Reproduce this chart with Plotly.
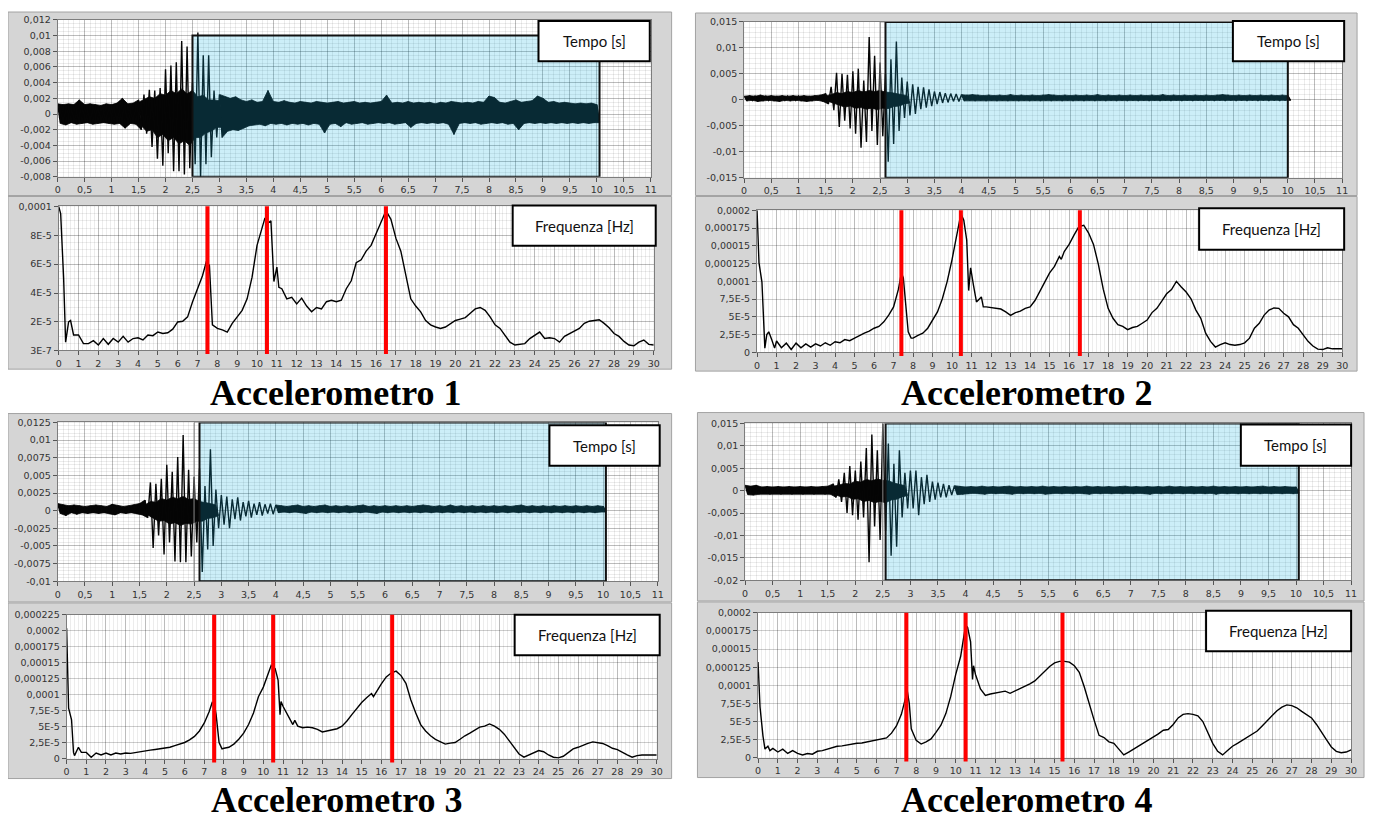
import plotly.graph_objects as go

# the page adds an 8 px body margin, so the figure is drawn 8 px in and is 8 px smaller
OFFSET = 8
W, H = 1374 - OFFSET, 823 - OFFSET

# ---------------------------------------------------------------- data
# time signals: envelope readings (max / min) every 0.1 s
T = [i / 10 for i in range(101)]

ACC1_HI = [0.0013, 0.0012, 0.0013, 0.0012, 0.0018, 0.0012, 0.0013, 0.0012, 0.0011, 0.0013,
           0.0012, 0.0014, 0.0020, 0.0013, 0.0014, 0.0018, 0.0025, 0.0031, 0.0030, 0.0033,
           0.0057, 0.0062, 0.0066, 0.0093, 0.0086, 0.0040, 0.0104, 0.0075, 0.0075, 0.0030,
           0.0025, 0.0022, 0.0020, 0.0022, 0.0018, 0.0016, 0.0018, 0.0015, 0.0016, 0.0030,
           0.0016, 0.0015, 0.0017, 0.0015, 0.0014, 0.0016, 0.0015, 0.0014, 0.0016, 0.0015,
           0.0014, 0.0015, 0.0016, 0.0014, 0.0015, 0.0016, 0.0014, 0.0015, 0.0014, 0.0015,
           0.0016, 0.0024, 0.0014, 0.0015, 0.0014, 0.0016, 0.0014, 0.0015, 0.0014, 0.0015,
           0.0013, 0.0015, 0.0014, 0.0016, 0.0015, 0.0014, 0.0015, 0.0014, 0.0016, 0.0015,
           0.0023, 0.0021, 0.0015, 0.0014, 0.0016, 0.0018, 0.0015, 0.0016, 0.0017, 0.0023,
           0.0020, 0.0015, 0.0016, 0.0014, 0.0015, 0.0014, 0.0013, 0.0014, 0.0013, 0.0014,
           0.0012]
ACC1_LO = [-0.0012, -0.0014, -0.0011, -0.0013, -0.0012, -0.0011, -0.0013, -0.0012, -0.0011, -0.0012,
           -0.0013, -0.0012, -0.0018, -0.0012, -0.0013, -0.0020, -0.0025, -0.0042, -0.0057, -0.0066,
           -0.0050, -0.0073, -0.0073, -0.0077, -0.0069, -0.0064, -0.0080, -0.0064, -0.0055, -0.0030,
           -0.0030, -0.0022, -0.0020, -0.0021, -0.0018, -0.0015, -0.0014, -0.0013, -0.0015, -0.0012,
           -0.0013, -0.0012, -0.0014, -0.0012, -0.0013, -0.0012, -0.0014, -0.0012, -0.0013, -0.0024,
           -0.0013, -0.0012, -0.0016, -0.0011, -0.0013, -0.0012, -0.0011, -0.0013, -0.0012, -0.0011,
           -0.0012, -0.0011, -0.0013, -0.0012, -0.0011, -0.0017, -0.0012, -0.0011, -0.0012, -0.0011,
           -0.0012, -0.0011, -0.0013, -0.0026, -0.0012, -0.0011, -0.0012, -0.0011, -0.0013, -0.0012,
           -0.0011, -0.0012, -0.0011, -0.0013, -0.0012, -0.0020, -0.0012, -0.0011, -0.0012, -0.0011,
           -0.0012, -0.0011, -0.0012, -0.0011, -0.0012, -0.0011, -0.0012, -0.0011, -0.0012, -0.0011,
           -0.0011]

ACC2_HI = [0.0007, 0.0008, 0.0007, 0.0009, 0.0007, 0.0008, 0.0007, 0.0008, 0.0007, 0.0008,
           0.0007, 0.0008, 0.0007, 0.0008, 0.0009, 0.0012, 0.0025, 0.0052, 0.0050, 0.0048,
           0.0055, 0.0060, 0.0037, 0.0121, 0.0085, 0.0072, 0.0050, 0.0078, 0.0112, 0.0043,
           0.0035, 0.0030, 0.0025, 0.0024, 0.0020, 0.0016, 0.0015, 0.0013, 0.0012, 0.0011,
           0.0010, 0.0009, 0.0010, 0.0009, 0.0008, 0.0009, 0.0008, 0.0009, 0.0008, 0.0010,
           0.0008, 0.0009, 0.0008, 0.0009, 0.0008, 0.0009, 0.0010, 0.0009, 0.0008, 0.0009,
           0.0008, 0.0009, 0.0008, 0.0009, 0.0008, 0.0010, 0.0008, 0.0009, 0.0008, 0.0009,
           0.0008, 0.0009, 0.0008, 0.0009, 0.0008, 0.0009, 0.0008, 0.0010, 0.0008, 0.0009,
           0.0008, 0.0009, 0.0008, 0.0009, 0.0008, 0.0009, 0.0008, 0.0009, 0.0010, 0.0009,
           0.0008, 0.0009, 0.0008, 0.0009, 0.0008, 0.0009, 0.0008, 0.0009, 0.0008, 0.0009,
           0.0008]
ACC2_LO = [-0.0002, -0.0001, -0.0003, -0.0002, -0.0001, -0.0002, -0.0003, -0.0001, -0.0002, -0.0001,
           -0.0002, -0.0003, -0.0002, -0.0001, -0.0003, -0.0008, -0.0020, -0.0052, -0.0040, -0.0055,
           -0.0065, -0.0092, -0.0081, -0.0060, -0.0087, -0.0070, -0.0119, -0.0085, -0.0060, -0.0035,
           -0.0030, -0.0027, -0.0018, -0.0015, -0.0012, -0.0008, -0.0006, -0.0005, -0.0003, -0.0003,
           -0.0002, -0.0001, -0.0002, -0.0001, -0.0002, -0.0001, -0.0002, -0.0001, -0.0002, -0.0001,
           -0.0002, -0.0001, -0.0002, -0.0001, -0.0002, -0.0001, -0.0002, -0.0001, -0.0002, -0.0001,
           -0.0002, -0.0001, -0.0002, -0.0001, -0.0002, -0.0001, -0.0002, -0.0001, -0.0002, -0.0001,
           -0.0002, -0.0001, -0.0002, -0.0001, -0.0002, -0.0001, -0.0002, -0.0001, -0.0002, -0.0001,
           -0.0002, -0.0001, -0.0002, -0.0001, -0.0002, -0.0001, -0.0002, -0.0001, -0.0002, -0.0001,
           -0.0002, -0.0001, -0.0002, -0.0001, -0.0002, -0.0001, -0.0002, -0.0001, -0.0002, -0.0001,
           -0.0001]

ACC3_HI = [0.0010, 0.0008, 0.0007, 0.0008, 0.0007, 0.0006, 0.0007, 0.0008, 0.0007, 0.0006,
           0.0009, 0.0007, 0.0006, 0.0007, 0.0008, 0.0010, 0.0015, 0.0040, 0.0038, 0.0045,
           0.0065, 0.0055, 0.0076, 0.0107, 0.0058, 0.0048, 0.0060, 0.0035, 0.0087, 0.0030,
           0.0022, 0.0020, 0.0016, 0.0019, 0.0012, 0.0014, 0.0010, 0.0012, 0.0009, 0.0010,
           0.0008, 0.0007, 0.0006, 0.0007, 0.0008, 0.0006, 0.0007, 0.0006, 0.0007, 0.0008,
           0.0006, 0.0007, 0.0006, 0.0007, 0.0006, 0.0007, 0.0008, 0.0006, 0.0007, 0.0006,
           0.0007, 0.0006, 0.0007, 0.0006, 0.0007, 0.0006, 0.0007, 0.0008, 0.0007, 0.0006,
           0.0007, 0.0006, 0.0008, 0.0006, 0.0007, 0.0006, 0.0007, 0.0006, 0.0007, 0.0006,
           0.0007, 0.0006, 0.0007, 0.0006, 0.0007, 0.0008, 0.0006, 0.0007, 0.0006, 0.0007,
           0.0006, 0.0007, 0.0006, 0.0007, 0.0006, 0.0007, 0.0006, 0.0007, 0.0006, 0.0007,
           0.0006]
ACC3_LO = [-0.0004, -0.0007, -0.0003, -0.0005, -0.0003, -0.0004, -0.0003, -0.0004, -0.0003, -0.0004,
           -0.0006, -0.0003, -0.0004, -0.0003, -0.0004, -0.0006, -0.0010, -0.0053, -0.0035, -0.0062,
           -0.0045, -0.0072, -0.0073, -0.0073, -0.0065, -0.0045, -0.0087, -0.0055, -0.0050, -0.0025,
           -0.0020, -0.0025, -0.0012, -0.0014, -0.0008, -0.0010, -0.0006, -0.0007, -0.0004, -0.0005,
           -0.0003, -0.0002, -0.0003, -0.0002, -0.0003, -0.0004, -0.0002, -0.0003, -0.0002, -0.0003,
           -0.0002, -0.0003, -0.0002, -0.0003, -0.0002, -0.0003, -0.0002, -0.0003, -0.0004, -0.0002,
           -0.0003, -0.0002, -0.0003, -0.0002, -0.0003, -0.0002, -0.0003, -0.0002, -0.0003, -0.0002,
           -0.0003, -0.0002, -0.0003, -0.0002, -0.0003, -0.0002, -0.0003, -0.0002, -0.0003, -0.0002,
           -0.0003, -0.0002, -0.0003, -0.0002, -0.0003, -0.0002, -0.0003, -0.0002, -0.0003, -0.0002,
           -0.0003, -0.0002, -0.0003, -0.0002, -0.0003, -0.0002, -0.0003, -0.0002, -0.0003, -0.0002,
           -0.0002]

ACC4_HI = [0.0012, 0.0010, 0.0012, 0.0008, 0.0009, 0.0008, 0.0009, 0.0008, 0.0009, 0.0008,
           0.0009, 0.0008, 0.0009, 0.0008, 0.0009, 0.0010, 0.0015, 0.0025, 0.0040, 0.0055,
           0.0045, 0.0065, 0.0095, 0.0125, 0.0090, 0.0150, 0.0105, 0.0060, 0.0090, 0.0040,
           0.0045, 0.0045, 0.0030, 0.0035, 0.0020, 0.0018, 0.0015, 0.0012, 0.0011, 0.0010,
           0.0008, 0.0009, 0.0008, 0.0010, 0.0008, 0.0009, 0.0008, 0.0009, 0.0010, 0.0008,
           0.0009, 0.0008, 0.0009, 0.0008, 0.0010, 0.0008, 0.0009, 0.0008, 0.0009, 0.0008,
           0.0009, 0.0008, 0.0010, 0.0008, 0.0009, 0.0008, 0.0009, 0.0008, 0.0009, 0.0010,
           0.0008, 0.0009, 0.0008, 0.0009, 0.0008, 0.0009, 0.0008, 0.0010, 0.0008, 0.0009,
           0.0008, 0.0009, 0.0008, 0.0009, 0.0008, 0.0010, 0.0008, 0.0009, 0.0008, 0.0009,
           0.0008, 0.0009, 0.0008, 0.0009, 0.0010, 0.0008, 0.0009, 0.0008, 0.0009, 0.0008,
           0.0008]
ACC4_LO = [-0.0009, -0.0010, -0.0008, -0.0007, -0.0008, -0.0007, -0.0008, -0.0007, -0.0008, -0.0007,
           -0.0008, -0.0007, -0.0008, -0.0007, -0.0008, -0.0008, -0.0015, -0.0025, -0.0050, -0.0055,
           -0.0065, -0.0060, -0.0160, -0.0080, -0.0110, -0.0090, -0.0145, -0.0125, -0.0060, -0.0040,
           -0.0040, -0.0055, -0.0030, -0.0025, -0.0020, -0.0015, -0.0015, -0.0010, -0.0009, -0.0008,
           -0.0007, -0.0006, -0.0007, -0.0008, -0.0006, -0.0007, -0.0006, -0.0007, -0.0008, -0.0006,
           -0.0007, -0.0006, -0.0007, -0.0006, -0.0008, -0.0007, -0.0006, -0.0007, -0.0006, -0.0007,
           -0.0006, -0.0007, -0.0008, -0.0006, -0.0007, -0.0006, -0.0007, -0.0006, -0.0007, -0.0006,
           -0.0007, -0.0006, -0.0007, -0.0008, -0.0006, -0.0007, -0.0006, -0.0007, -0.0006, -0.0007,
           -0.0006, -0.0007, -0.0006, -0.0007, -0.0006, -0.0008, -0.0006, -0.0007, -0.0006, -0.0007,
           -0.0006, -0.0007, -0.0006, -0.0007, -0.0006, -0.0007, -0.0006, -0.0007, -0.0006, -0.0007,
           -0.0006]

# start / end of the burst (s): outside it the record is a dense noise band
BURST = [(1.5, 3.0), (1.5, 4.0), (1.6, 4.0), (1.6, 3.8)]

# solid core of the burst (t, upper, lower)
CORE1 = [(1.5, 0.0015, -0.0015), (1.6, 0.0018, -0.0022), (1.7, 0.0022, -0.0020), (1.8, 0.0020, -0.0030),
         (1.9, 0.0026, -0.0026), (2.0, 0.0024, -0.0034), (2.1, 0.0030, -0.0030), (2.2, 0.0026, -0.0038),
         (2.3, 0.0032, -0.0034), (2.4, 0.0026, -0.0040), (2.5, 0.0030, -0.0030), (2.6, 0.0022, -0.0030),
         (2.7, 0.0024, -0.0024), (2.8, 0.0018, -0.0022), (2.9, 0.0018, -0.0017), (3.0, 0.0017, -0.0017)]
CORE2 = [(1.5, 0.0008, -0.0003), (1.6, 0.0010, -0.0006), (1.7, 0.0014, -0.0010), (1.8, 0.0012, -0.0014),
         (1.9, 0.0016, -0.0012), (2.0, 0.0014, -0.0016), (2.1, 0.0018, -0.0015), (2.2, 0.0015, -0.0018),
         (2.3, 0.0018, -0.0016), (2.4, 0.0016, -0.0019), (2.5, 0.0018, -0.0016), (2.6, 0.0015, -0.0017),
         (2.7, 0.0014, -0.0013), (2.8, 0.0012, -0.0012), (2.9, 0.0010, -0.0008), (3.0, 0.0008, -0.0006)]
CORE3 = [(1.6, 0.0008, -0.0006), (1.7, 0.0013, -0.0011), (1.8, 0.0012, -0.0015), (1.9, 0.0017, -0.0014),
         (2.0, 0.0015, -0.0019), (2.1, 0.0019, -0.0017), (2.2, 0.0017, -0.0021), (2.3, 0.0020, -0.0018),
         (2.4, 0.0016, -0.0019), (2.5, 0.0017, -0.0015), (2.6, 0.0013, -0.0015), (2.7, 0.0012, -0.0011),
         (2.8, 0.0010, -0.0010), (2.9, 0.0008, -0.0007)]
CORE4 = [(1.6, 0.0010, -0.0010), (1.7, 0.0012, -0.0014), (1.8, 0.0016, -0.0013), (1.9, 0.0015, -0.0019),
         (2.0, 0.0021, -0.0018), (2.1, 0.0019, -0.0024), (2.2, 0.0025, -0.0022), (2.3, 0.0022, -0.0027),
         (2.4, 0.0026, -0.0024), (2.5, 0.0023, -0.0027), (2.6, 0.0022, -0.0021), (2.7, 0.0017, -0.0019),
         (2.8, 0.0014, -0.0014), (2.9, 0.0011, -0.0011)]

# spectra: (frequency Hz, amplitude) readings
SPEC1 = [(0, 10.0e-5), (0.1, 9.5e-5), (0.25, 5.0e-5), (0.35, 0.6e-5), (0.5, 2.0e-5), (0.6, 2.1e-5), (0.75, 1.1e-5),
         (1.0, 1.1e-5), (1.25, 0.5e-5), (1.5, 0.5e-5), (1.75, 0.7e-5), (2.0, 0.4e-5), (2.25, 0.85e-5), (2.5, 0.45e-5),
         (2.75, 0.85e-5), (3.0, 0.6e-5), (3.25, 1.0e-5), (3.5, 0.6e-5), (3.75, 0.85e-5), (4.0, 0.9e-5), (4.25, 0.75e-5),
         (4.5, 1.1e-5), (4.75, 1.05e-5), (5.0, 1.3e-5), (5.25, 1.2e-5), (5.5, 1.25e-5), (5.75, 1.5e-5), (6.0, 2.0e-5),
         (6.25, 2.05e-5), (6.5, 2.35e-5), (6.75, 3.4e-5), (7.0, 4.3e-5), (7.25, 5.2e-5), (7.45, 6.2e-5), (7.6, 5.9e-5),
         (7.75, 1.8e-5), (8.0, 1.55e-5), (8.25, 1.45e-5), (8.5, 1.3e-5), (8.75, 1.9e-5), (9.0, 2.35e-5), (9.25, 2.8e-5),
         (9.5, 3.6e-5), (9.75, 5.1e-5), (10.0, 7.3e-5), (10.25, 8.5e-5), (10.4, 9.2e-5), (10.5, 8.8e-5), (10.7, 9.0e-5),
         (10.85, 4.8e-5), (11.0, 5.8e-5), (11.1, 4.4e-5), (11.25, 4.3e-5), (11.5, 3.6e-5), (11.75, 3.7e-5), (12.0, 3.25e-5),
         (12.25, 3.65e-5), (12.5, 3.1e-5), (12.75, 2.7e-5), (13.0, 3.0e-5), (13.25, 2.9e-5), (13.5, 3.4e-5), (13.75, 3.5e-5),
         (14.0, 3.4e-5), (14.25, 3.5e-5), (14.5, 4.3e-5), (14.75, 4.85e-5), (15.0, 6.1e-5), (15.25, 6.3e-5), (15.5, 6.9e-5),
         (15.75, 7.3e-5), (16.0, 8.1e-5), (16.25, 8.9e-5), (16.5, 9.7e-5), (16.75, 9.1e-5), (17.0, 7.8e-5), (17.25, 6.9e-5),
         (17.5, 5.3e-5), (17.75, 3.6e-5), (18.0, 3.1e-5), (18.25, 2.7e-5), (18.5, 2.1e-5), (18.75, 1.8e-5), (19.0, 1.65e-5),
         (19.25, 1.55e-5), (19.5, 1.65e-5), (19.75, 1.9e-5), (20.0, 2.1e-5), (20.25, 2.2e-5), (20.5, 2.3e-5), (20.75, 2.6e-5),
         (21.0, 2.9e-5), (21.25, 3.0e-5), (21.5, 2.8e-5), (21.75, 2.35e-5), (22.0, 1.8e-5), (22.25, 1.55e-5), (22.5, 1.1e-5),
         (22.75, 0.6e-5), (23.0, 0.4e-5), (23.25, 0.45e-5), (23.5, 0.5e-5), (23.75, 0.85e-5), (24.0, 1.1e-5), (24.25, 1.3e-5),
         (24.5, 0.85e-5), (24.75, 0.9e-5), (25.0, 0.85e-5), (25.25, 0.6e-5), (25.5, 1.0e-5), (25.75, 1.2e-5), (26.0, 1.35e-5),
         (26.25, 1.55e-5), (26.5, 1.9e-5), (26.75, 2.05e-5), (27.0, 2.1e-5), (27.25, 2.15e-5), (27.5, 1.9e-5), (27.75, 1.6e-5),
         (28.0, 1.2e-5), (28.25, 1.0e-5), (28.5, 0.65e-5), (28.75, 0.4e-5), (29.0, 0.35e-5), (29.25, 0.6e-5), (29.5, 0.75e-5),
         (29.75, 0.45e-5), (30.0, 0.4e-5)]

SPEC2 = [(0, 20.0e-5), (0.1, 12.6e-5), (0.25, 9.9e-5), (0.35, 3.9e-5), (0.4, 0.6e-5), (0.5, 2.5e-5), (0.6, 2.9e-5),
         (0.75, 1.8e-5), (0.9, 0.6e-5), (1.0, 1.6e-5), (1.25, 0.65e-5), (1.5, 1.3e-5), (1.75, 0.4e-5), (2.0, 1.3e-5),
         (2.25, 0.65e-5), (2.5, 1.2e-5), (2.75, 0.75e-5), (3.0, 1.2e-5), (3.25, 0.9e-5), (3.5, 1.35e-5), (3.75, 1.0e-5),
         (4.0, 1.5e-5), (4.25, 1.35e-5), (4.5, 1.8e-5), (4.75, 1.65e-5), (5.0, 2.0e-5), (5.25, 2.4e-5), (5.5, 2.7e-5),
         (5.75, 3.0e-5), (6.0, 3.4e-5), (6.25, 3.65e-5), (6.5, 4.3e-5), (6.75, 5.25e-5), (7.0, 6.4e-5), (7.25, 8.9e-5),
         (7.4, 11.2e-5), (7.5, 10.5e-5), (7.6, 7.5e-5), (7.75, 2.9e-5), (7.9, 2.0e-5), (8.0, 2.0e-5), (8.25, 2.4e-5),
         (8.5, 2.7e-5), (8.75, 3.4e-5), (9.0, 4.55e-5), (9.25, 5.7e-5), (9.5, 7.55e-5), (9.75, 10.0e-5), (10.0, 13.1e-5),
         (10.25, 16.5e-5), (10.45, 19.5e-5), (10.6, 18.6e-5), (10.75, 15.8e-5), (10.85, 8.7e-5), (10.95, 11.9e-5),
         (11.1, 9.4e-5), (11.25, 7.1e-5), (11.5, 7.8e-5), (11.6, 6.4e-5), (11.75, 6.4e-5), (12.0, 6.3e-5), (12.25, 6.2e-5),
         (12.5, 6.1e-5), (12.75, 5.7e-5), (13.0, 5.2e-5), (13.25, 5.6e-5), (13.5, 5.8e-5), (13.75, 6.2e-5), (14.0, 6.4e-5),
         (14.25, 7.3e-5), (14.5, 8.5e-5), (14.75, 9.9e-5), (15.0, 11.2e-5), (15.25, 12.1e-5), (15.5, 13.5e-5),
         (15.6, 13.1e-5), (15.75, 14.2e-5), (16.0, 15.2e-5), (16.25, 16.5e-5), (16.5, 17.7e-5), (16.75, 17.9e-5),
         (17.0, 16.8e-5), (17.25, 15.2e-5), (17.5, 12.4e-5), (17.75, 8.9e-5), (18.0, 6.2e-5), (18.25, 4.8e-5),
         (18.5, 3.9e-5), (18.75, 3.65e-5), (19.0, 3.2e-5), (19.25, 3.5e-5), (19.5, 3.65e-5), (19.75, 4.1e-5),
         (20.0, 4.55e-5), (20.25, 5.6e-5), (20.5, 6.2e-5), (20.75, 7.2e-5), (21.0, 8.25e-5), (21.25, 8.85e-5),
         (21.5, 10.0e-5), (21.75, 9.2e-5), (22.0, 8.5e-5), (22.25, 7.55e-5), (22.5, 5.95e-5), (22.75, 4.8e-5),
         (23.0, 2.7e-5), (23.25, 1.55e-5), (23.5, 0.75e-5), (23.75, 1.1e-5), (24.0, 1.35e-5), (24.25, 1.1e-5),
         (24.5, 1.0e-5), (24.75, 1.1e-5), (25.0, 1.35e-5), (25.25, 2.0e-5), (25.5, 3.4e-5), (25.75, 4.1e-5),
         (26.0, 5.25e-5), (26.25, 5.95e-5), (26.5, 6.25e-5), (26.75, 6.2e-5), (27.0, 5.5e-5), (27.25, 5.0e-5),
         (27.5, 3.9e-5), (27.75, 3.4e-5), (28.0, 2.5e-5), (28.25, 1.55e-5), (28.5, 0.9e-5), (28.75, 0.45e-5),
         (29.0, 0.4e-5), (29.25, 0.65e-5), (29.5, 0.5e-5), (29.75, 0.5e-5), (30.0, 0.5e-5)]

SPEC3 = [(0, 20.4e-5), (0.05, 14.0e-5), (0.1, 7.9e-5), (0.25, 6.1e-5), (0.35, 1.0e-5), (0.4, 0.5e-5), (0.5, 1.3e-5),
         (0.6, 1.8e-5), (0.75, 1.0e-5), (1.0, 1.0e-5), (1.25, 0.25e-5), (1.5, 0.9e-5), (1.75, 0.6e-5), (2.0, 0.9e-5),
         (2.25, 0.6e-5), (2.5, 0.9e-5), (2.75, 0.75e-5), (3.0, 0.9e-5), (3.25, 0.85e-5), (3.5, 1.0e-5), (3.75, 1.1e-5),
         (4.0, 1.3e-5), (4.25, 1.35e-5), (4.5, 1.45e-5), (4.75, 1.55e-5), (5.0, 1.65e-5), (5.25, 1.8e-5), (5.5, 2.05e-5),
         (5.75, 2.3e-5), (6.0, 2.55e-5), (6.25, 2.95e-5), (6.5, 3.5e-5), (6.75, 4.35e-5), (7.0, 5.6e-5), (7.25, 7.4e-5),
         (7.4, 8.8e-5), (7.5, 8.7e-5), (7.6, 6.9e-5), (7.75, 2.55e-5), (7.9, 1.55e-5), (8.0, 1.65e-5), (8.25, 1.8e-5),
         (8.5, 2.3e-5), (8.75, 3.05e-5), (9.0, 4.0e-5), (9.25, 5.35e-5), (9.5, 7.15e-5), (9.75, 9.7e-5), (10.0, 11.2e-5),
         (10.25, 13.5e-5), (10.4, 14.6e-5), (10.6, 14.1e-5), (10.75, 12.3e-5), (10.85, 6.9e-5), (10.9, 8.95e-5),
         (11.0, 8.2e-5), (11.25, 6.65e-5), (11.5, 5.35e-5), (11.6, 6.0e-5), (11.75, 5.1e-5), (12.0, 4.85e-5),
         (12.25, 4.95e-5), (12.5, 4.85e-5), (12.75, 4.6e-5), (13.0, 4.2e-5), (13.25, 4.35e-5), (13.5, 4.6e-5),
         (13.75, 4.7e-5), (14.0, 5.1e-5), (14.25, 5.9e-5), (14.5, 6.9e-5), (14.75, 7.9e-5), (15.0, 8.8e-5),
         (15.25, 9.55e-5), (15.5, 10.2e-5), (15.6, 9.7e-5), (15.75, 10.5e-5), (16.0, 11.7e-5), (16.25, 12.8e-5),
         (16.5, 13.4e-5), (16.75, 13.7e-5), (17.0, 13.0e-5), (17.25, 11.8e-5), (17.5, 9.2e-5), (17.75, 7.15e-5),
         (18.0, 5.35e-5), (18.25, 4.35e-5), (18.5, 3.6e-5), (18.75, 3.05e-5), (19.0, 2.65e-5), (19.25, 2.3e-5),
         (19.5, 2.45e-5), (19.75, 2.55e-5), (20.0, 3.05e-5), (20.25, 3.6e-5), (20.5, 4.0e-5), (20.75, 4.5e-5),
         (21.0, 4.95e-5), (21.25, 5.1e-5), (21.5, 5.45e-5), (21.75, 5.1e-5), (22.0, 4.6e-5), (22.25, 3.85e-5),
         (22.5, 2.8e-5), (22.75, 1.8e-5), (23.0, 0.75e-5), (23.25, 0.25e-5), (23.5, 0.6e-5), (23.75, 1.0e-5),
         (24.0, 1.3e-5), (24.25, 1.1e-5), (24.5, 0.6e-5), (24.75, 0.25e-5), (25.0, 0.15e-5), (25.25, 0.4e-5),
         (25.5, 1.0e-5), (25.75, 1.55e-5), (26.0, 1.8e-5), (26.25, 2.15e-5), (26.5, 2.4e-5), (26.75, 2.65e-5),
         (27.0, 2.55e-5), (27.25, 2.4e-5), (27.5, 2.05e-5), (27.75, 1.65e-5), (28.0, 1.45e-5), (28.25, 1.0e-5),
         (28.5, 0.6e-5), (28.75, 0.25e-5), (29.0, 0.5e-5), (29.25, 0.6e-5), (29.5, 0.6e-5), (29.75, 0.5e-5), (30.0, 0.6e-5)]

SPEC4 = [(0, 13.2e-5), (0.1, 7.0e-5), (0.25, 3.0e-5), (0.35, 1.2e-5), (0.5, 1.6e-5), (0.6, 1.0e-5), (0.75, 1.3e-5),
         (1.0, 0.8e-5), (1.25, 1.2e-5), (1.5, 0.6e-5), (1.75, 1.0e-5), (2.0, 0.6e-5), (2.25, 0.4e-5), (2.5, 0.6e-5),
         (2.75, 0.5e-5), (3.0, 0.9e-5), (3.25, 1.0e-5), (3.5, 1.2e-5), (3.75, 1.4e-5), (4.0, 1.6e-5), (4.25, 1.65e-5),
         (4.5, 1.8e-5), (4.75, 1.85e-5), (5.0, 2.0e-5), (5.25, 2.05e-5), (5.5, 2.2e-5), (5.75, 2.3e-5), (6.0, 2.45e-5),
         (6.25, 2.6e-5), (6.5, 2.75e-5), (6.75, 3.4e-5), (7.0, 4.4e-5), (7.25, 6.0e-5), (7.45, 8.0e-5), (7.55, 9.2e-5),
         (7.65, 7.5e-5), (7.75, 4.0e-5), (8.0, 2.4e-5), (8.25, 1.9e-5), (8.5, 2.2e-5), (8.75, 2.6e-5), (9.0, 3.5e-5),
         (9.25, 4.5e-5), (9.5, 6.1e-5), (9.75, 8.5e-5), (10.0, 11.5e-5), (10.25, 14.0e-5), (10.5, 18.3e-5),
         (10.6, 18.0e-5), (10.75, 16.0e-5), (10.85, 10.8e-5), (10.9, 12.7e-5), (11.0, 11.5e-5), (11.25, 9.5e-5),
         (11.5, 8.6e-5), (11.75, 8.8e-5), (12.0, 8.9e-5), (12.25, 9.0e-5), (12.5, 9.2e-5), (12.75, 8.9e-5),
         (13.0, 9.2e-5), (13.25, 9.6e-5), (13.5, 9.9e-5), (13.75, 10.2e-5), (14.0, 10.6e-5), (14.25, 11.3e-5),
         (14.5, 12.0e-5), (14.75, 12.6e-5), (15.0, 13.1e-5), (15.25, 13.3e-5), (15.5, 13.3e-5), (15.75, 13.2e-5),
         (16.0, 12.7e-5), (16.25, 11.8e-5), (16.5, 9.8e-5), (16.75, 7.4e-5), (17.0, 5.2e-5), (17.25, 3.1e-5),
         (17.5, 2.8e-5), (17.75, 2.2e-5), (18.0, 2.0e-5), (18.25, 1.2e-5), (18.5, 0.4e-5), (18.75, 0.8e-5),
         (19.0, 1.2e-5), (19.25, 1.6e-5), (19.5, 2.1e-5), (19.75, 2.5e-5), (20.0, 2.8e-5), (20.25, 3.3e-5),
         (20.5, 3.8e-5), (20.75, 3.9e-5), (21.0, 4.6e-5), (21.25, 5.5e-5), (21.5, 6.0e-5), (21.75, 6.1e-5),
         (22.0, 6.0e-5), (22.25, 5.8e-5), (22.5, 5.0e-5), (22.75, 3.6e-5), (23.0, 2.0e-5), (23.25, 0.9e-5),
         (23.5, 0.4e-5), (23.75, 1.0e-5), (24.0, 1.6e-5), (24.25, 2.0e-5), (24.5, 2.4e-5), (24.75, 2.9e-5),
         (25.0, 3.3e-5), (25.25, 3.7e-5), (25.5, 4.4e-5), (25.75, 5.1e-5), (26.0, 5.7e-5), (26.25, 6.5e-5),
         (26.5, 7.0e-5), (26.75, 7.3e-5), (27.0, 7.2e-5), (27.25, 6.9e-5), (27.5, 6.4e-5), (27.75, 6.0e-5),
         (28.0, 5.5e-5), (28.25, 4.6e-5), (28.5, 3.5e-5), (28.75, 2.5e-5), (29.0, 1.5e-5), (29.25, 0.9e-5),
         (29.5, 0.7e-5), (29.75, 0.8e-5), (30.0, 1.1e-5)]

# identified natural frequencies (red markers), Hz
PEAKS = [[7.5, 10.5, 16.5], [7.4, 10.45, 16.55], [7.5, 10.5, 16.55], [7.5, 10.5, 15.4]]

TITLES = ["Accelerometro 1", "Accelerometro 2", "Accelerometro 3", "Accelerometro 4"]
TIME_LABEL = "Tempo [s]"
FREQ_LABEL = "Frequenza [Hz]"

# tick labels
T_XVALS = [0, 0.5, 1, 1.5, 2, 2.5, 3, 3.5, 4, 4.5, 5, 5.5, 6, 6.5, 7, 7.5, 8, 8.5, 9, 9.5, 10, 10.5, 11]
T_XTEXT = ["0", "0,5", "1", "1,5", "2", "2,5", "3", "3,5", "4", "4,5", "5", "5,5", "6", "6,5", "7", "7,5",
           "8", "8,5", "9", "9,5", "10", "10,5", "11"]
F_XVALS = list(range(31))
F_XTEXT = [str(v) for v in F_XVALS]

T_YVALS = [
    [0.012, 0.01, 0.008, 0.006, 0.004, 0.002, 0, -0.002, -0.004, -0.006, -0.008],
    [0.015, 0.01, 0.005, 0, -0.005, -0.01, -0.015],
    [0.0125, 0.01, 0.0075, 0.005, 0.0025, 0, -0.0025, -0.005, -0.0075, -0.01],
    [0.015, 0.01, 0.005, 0, -0.005, -0.01, -0.015, -0.02],
]
T_YTEXT = [
    ["0,012", "0,01", "0,008", "0,006", "0,004", "0,002", "0", "-0,002", "-0,004", "-0,006", "-0,008"],
    ["0,015", "0,01", "0,005", "0", "-0,005", "-0,01", "-0,015"],
    ["0,0125", "0,01", "0,0075", "0,005", "0,0025", "0", "-0,0025", "-0,005", "-0,0075", "-0,01"],
    ["0,015", "0,01", "0,005", "0", "-0,005", "-0,01", "-0,015", "-0,02"],
]
F_YVALS = [
    [1e-4, 8e-5, 6e-5, 4e-5, 2e-5, 3e-7],
    [2e-4, 1.75e-4, 1.5e-4, 1.25e-4, 1e-4, 7.5e-5, 5e-5, 2.5e-5, 0],
    [2.25e-4, 2e-4, 1.75e-4, 1.5e-4, 1.25e-4, 1e-4, 7.5e-5, 5e-5, 2.5e-5, 0],
    [2e-4, 1.75e-4, 1.5e-4, 1.25e-4, 1e-4, 7.5e-5, 5e-5, 2.5e-5, 0],
]
F_YTEXT = [
    ["0,0001", "8E-5", "6E-5", "4E-5", "2E-5", "3E-7"],
    ["0,0002", "0,000175", "0,00015", "0,000125", "0,0001", "7,5E-5", "5E-5", "2,5E-5", "0"],
    ["0,000225", "0,0002", "0,000175", "0,00015", "0,000125", "0,0001", "7,5E-5", "5E-5", "2,5E-5", "0"],
    ["0,0002", "0,000175", "0,00015", "0,000125", "0,0001", "7,5E-5", "5E-5", "2,5E-5", "0"],
]

# ---------------------------------------------------------------- geometry / style (page pixels)
TIME_GEOM = [
    dict(box=(55, 652, 14, 173), frame=(5, 673, 6, 192), yr=(-0.008, 0.012), ydt=0.0005,
         cursor=(2.5, 10.05, -0.008, 0.01), ghost=None, label=(539, 651, 15, 56)),
    dict(box=(746, 1348, 16, 174), frame=(697, 1363, 7, 192), yr=(-0.015, 0.015), ydt=0.001,
         cursor=(2.6, 10.0, -0.015, 0.015), ghost=(2.5, 10.0), label=(1238, 1350, 15, 56)),
    dict(box=(55, 659, 422, 583), frame=(5, 673, 413, 604), yr=(-0.01, 0.0125), ydt=0.0005,
         cursor=(2.6, 10.05, -0.01, 0.0125), ghost=(2.5, 10.05), label=(550, 661, 425, 466)),
    dict(box=(747, 1357, 423, 582), frame=(699, 1370, 412, 603), yr=(-0.02, 0.015), ydt=0.001,
         cursor=(2.55, 10.05, -0.02, 0.015), ghost=(2.5, 10.05), label=(1246, 1357, 424, 466)),
]
FREQ_GEOM = [
    dict(box=(56, 655, 203, 349), frame=(5, 673, 193, 368), yr=(3e-7, 1e-4), ydt=0.5e-5, label=(513, 657, 202, 243)),
    dict(box=(759, 1348, 207, 351), frame=(697, 1363, 193, 370), yr=(0, 2e-4), ydt=None, label=(1204, 1350, 205, 247)),
    dict(box=(64, 658, 617, 763), frame=(5, 673, 605, 783), yr=(0, 2.25e-4), ydt=None, label=(515, 661, 617, 658)),
    dict(box=(760, 1357, 615, 762), frame=(699, 1370, 604, 782), yr=(0, 2e-4), ydt=None, label=(1211, 1357, 613, 654)),
]
TITLE_POS = [(335, 392), (1031, 392), (336, 805), (1031, 805)]

GRID_MAJOR = "rgba(0,0,0,0.20)"
GRID_MINOR = "rgba(0,0,0,0.075)"
FRAME_FILL = "#d5d5d5"
FRAME_LINE = "#a3a3a3"
CURSOR_FILL = "rgba(23,176,222,0.22)"
SIGNAL = "#050505"
TICKFONT = dict(family="DejaVu Sans", size=9.5, color="#333333")


def px(x):
    return (x - OFFSET) / W


def py(y):
    return 1 - (y - OFFSET) / H


acc_hi = [ACC1_HI, ACC2_HI, ACC3_HI, ACC4_HI]
acc_lo = [ACC1_LO, ACC2_LO, ACC3_LO, ACC4_LO]
cores = [CORE1, CORE2, CORE3, CORE4]
specs = [SPEC1, SPEC2, SPEC3, SPEC4]
for a, b in zip(acc_hi, acc_lo):
    assert len(a) == len(T) and len(b) == len(T)

fig = go.Figure()
layout = dict(width=W, height=H, margin=dict(l=0, r=0, t=0, b=0), paper_bgcolor="white",
              plot_bgcolor="rgba(0,0,0,0)", showlegend=False)
shapes = []
annotations = []

for geo in TIME_GEOM + FREQ_GEOM:
    x0, x1, y0, y1 = geo["frame"]
    shapes.append(dict(type="rect", xref="paper", yref="paper", x0=px(x0), x1=px(x1), y0=py(y1), y1=py(y0),
                       fillcolor=FRAME_FILL, line=dict(color=FRAME_LINE, width=1), layer="below"))
for geo in TIME_GEOM + FREQ_GEOM:
    x0, x1, y0, y1 = geo["box"]
    shapes.append(dict(type="rect", xref="paper", yref="paper", x0=px(x0), x1=px(x1), y0=py(y1), y1=py(y0),
                       fillcolor="white", line=dict(width=0), layer="below"))


def axis_base():
    return dict(showgrid=True, gridcolor=GRID_MAJOR, gridwidth=1, zeroline=False, showline=True,
                linecolor="#7d7d7d", linewidth=1, mirror=True, ticks="outside", ticklen=4, tickwidth=1,
                tickcolor="#555555", tickfont=TICKFONT, fixedrange=True, tickmode="array")


def band(xa, ya, xb, yb, ax_x, ax_y):
    """closed filled polygon: upper edge (xa, ya), lower edge (xb, yb)"""
    return go.Scatter(x=list(xa) + list(reversed(xb)), y=list(ya) + list(reversed(yb)), mode="lines",
                      fill="toself", fillcolor=SIGNAL, line=dict(color=SIGNAL, width=0.8),
                      xaxis=ax_x, yaxis=ax_y, hoverinfo="skip")


for k in range(4):
    ti = 2 * k + 1      # time subplot index
    fi = 2 * k + 2      # frequency subplot index
    tg, fg = TIME_GEOM[k], FREQ_GEOM[k]
    hi, lo = acc_hi[k], acc_lo[k]
    b0, b1 = BURST[k]

    # ---- time subplot: dense noise band (filled envelope) outside the burst
    for sel in ([i for i, t in enumerate(T) if t <= b0], [i for i, t in enumerate(T) if t >= b1]):
        fig.add_trace(band([T[i] for i in sel], [hi[i] for i in sel],
                           [T[i] + 0.05 for i in sel], [lo[i] for i in sel], f"x{ti}", f"y{ti}"))
    # ---- solid core of the burst
    core = cores[k]
    fig.add_trace(band([c[0] for c in core], [c[1] for c in core],
                       [c[0] + 0.05 for c in core], [c[2] for c in core], f"x{ti}", f"y{ti}"))
    # ---- alternating max / min trace
    xs, ys = [], []
    for t, h, l in zip(T, hi, lo):
        xs += [t, t + 0.05]
        ys += [h, l]
    fig.add_trace(go.Scatter(x=xs, y=ys, mode="lines", line=dict(color=SIGNAL, width=1.4),
                             xaxis=f"x{ti}", yaxis=f"y{ti}", hoverinfo="skip"))
    bx0, bx1, by0, by1 = tg["box"]
    xa = axis_base()
    xa.update(domain=[px(bx0), px(bx1)], anchor=f"y{ti}", range=[0, 11], tickvals=T_XVALS, ticktext=T_XTEXT,
              minor=dict(tickmode="linear", tick0=0, dtick=0.1, showgrid=True, gridcolor=GRID_MINOR, ticks=""))
    ya = axis_base()
    ya.update(domain=[py(by1), py(by0)], anchor=f"x{ti}", range=list(tg["yr"]), tickvals=T_YVALS[k],
              ticktext=T_YTEXT[k],
              minor=dict(tickmode="linear", tick0=0, dtick=tg["ydt"], showgrid=True, gridcolor=GRID_MINOR, ticks=""))
    layout[f"xaxis{ti}"] = xa
    layout[f"yaxis{ti}"] = ya

    if tg["ghost"]:
        g0, g1 = tg["ghost"]
        shapes.append(dict(type="rect", xref=f"x{ti}", yref=f"y{ti}", x0=g0, x1=g1, y0=tg["yr"][0], y1=tg["yr"][1],
                           line=dict(color="#8a8a8a", width=1), fillcolor="rgba(0,0,0,0)", layer="above"))
    c0, c1, c2, c3 = tg["cursor"]
    shapes.append(dict(type="rect", xref=f"x{ti}", yref=f"y{ti}", x0=c0, x1=c1, y0=c2, y1=c3,
                       fillcolor=CURSOR_FILL, line=dict(color="#111111", width=2), layer="above"))

    # ---- frequency subplot
    fx = [p[0] for p in specs[k]]
    fy = [p[1] for p in specs[k]]
    fig.add_trace(go.Scatter(x=fx, y=fy, mode="lines", line=dict(color="#000000", width=1.4),
                             xaxis=f"x{fi}", yaxis=f"y{fi}", hoverinfo="skip"))
    bx0, bx1, by0, by1 = fg["box"]
    xa = axis_base()
    xa.update(domain=[px(bx0), px(bx1)], anchor=f"y{fi}", range=[0, 30], tickvals=F_XVALS, ticktext=F_XTEXT,
              minor=dict(tickmode="linear", tick0=0, dtick=0.2, showgrid=True, gridcolor=GRID_MINOR, ticks=""))
    ya = axis_base()
    ya.update(domain=[py(by1), py(by0)], anchor=f"x{fi}", range=list(fg["yr"]), tickvals=F_YVALS[k],
              ticktext=F_YTEXT[k])
    if fg["ydt"]:
        ya["minor"] = dict(tickmode="linear", tick0=0, dtick=fg["ydt"], showgrid=True, gridcolor=GRID_MINOR,
                           ticks="")
    layout[f"xaxis{fi}"] = xa
    layout[f"yaxis{fi}"] = ya

    for p in PEAKS[k]:
        shapes.append(dict(type="line", xref=f"x{fi}", yref=f"y{fi} domain", x0=p, x1=p, y0=-0.025, y1=1.0,
                           line=dict(color="#ff0000", width=4), layer="above"))

    # ---- label boxes
    for geo, txt in ((tg, TIME_LABEL), (fg, FREQ_LABEL)):
        l0, l1, l2, l3 = geo["label"]
        shapes.append(dict(type="rect", xref="paper", yref="paper", x0=px(l0), x1=px(l1), y0=py(l3), y1=py(l2),
                           fillcolor="white", line=dict(color="#000000", width=2), layer="above"))
        annotations.append(dict(xref="paper", yref="paper", x=px((l0 + l1) / 2), y=py((l2 + l3) / 2),
                                text=txt, showarrow=False, xanchor="center", yanchor="middle",
                                font=dict(family="Lato", size=15, color="#111111")))

    # ---- panel title
    tx, ty = TITLE_POS[k]
    annotations.append(dict(xref="paper", yref="paper", x=px(tx), y=py(ty), text=f"<b>{TITLES[k]}</b>",
                            showarrow=False, xanchor="center", yanchor="middle",
                            font=dict(family="Liberation Serif", size=36, color="#000000")))

layout["shapes"] = shapes
layout["annotations"] = annotations
fig.update_layout(**layout)
fig.write_html("out.html")
